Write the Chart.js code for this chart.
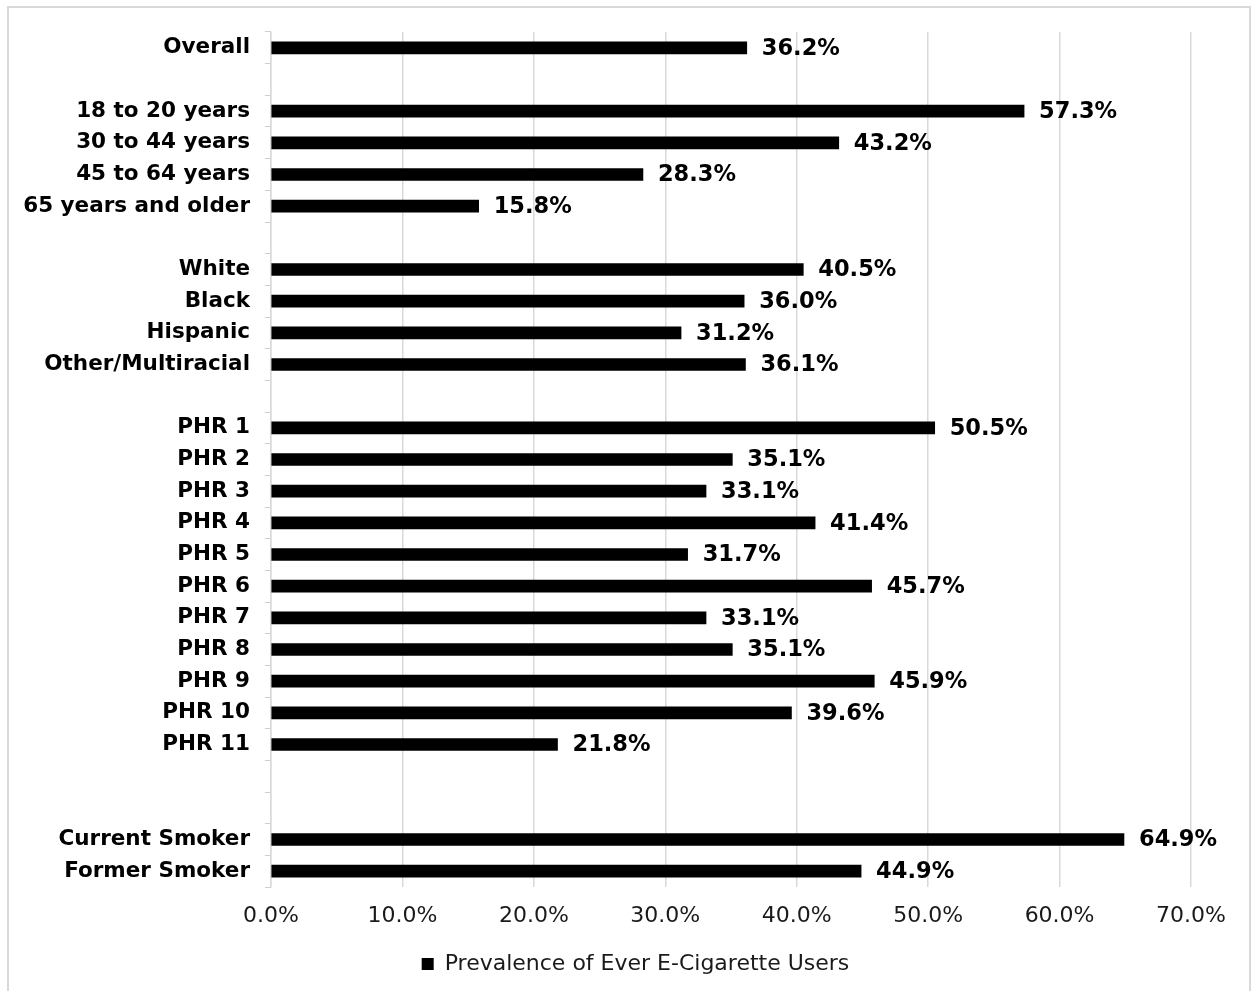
<!DOCTYPE html>
<html>
<head>
<meta charset="utf-8">
<script src="https://cdn.jsdelivr.net/npm/chart.js@4"></script>
<style>
  html, body { margin: 0; padding: 0; background: #fff; }
  canvas { display: block; }
</style>
</head>
<body>
<canvas id="prevalence-chart" width="1252" height="991"></canvas>
<script>
// blank entries leave the gaps between the groups
const groups = [
    'Overall', '',
    '18 to 20 years', '30 to 44 years', '45 to 64 years', '65 years and older', '',
    'White', 'Black', 'Hispanic', 'Other/Multiracial', '',
    'PHR 1', 'PHR 2', 'PHR 3', 'PHR 4', 'PHR 5', 'PHR 6',
    'PHR 7', 'PHR 8', 'PHR 9', 'PHR 10', 'PHR 11', '', '',
    'Current Smoker', 'Former Smoker'
];

const prevalence = [
    36.2, null,
    57.3, 43.2, 28.3, 15.8, null,
    40.5, 36.0, 31.2, 36.1, null,
    50.5, 35.1, 33.1, 41.4, 31.7, 45.7,
    33.1, 35.1, 45.9, 39.6, 21.8, null, null,
    64.9, 44.9
];

const xTicks = [0, 10, 20, 30, 40, 50, 60, 70];

const FONT = 'DejaVu Sans';

// value text at the end of every bar
const barValues = {
    id: 'barValues',
    afterDatasetsDraw(chart) {
        const ctx = chart.ctx;
        const meta = chart.getDatasetMeta(0);
        ctx.save();
        ctx.font = 'bold 22.5px "' + FONT + '"';
        ctx.fillStyle = '#000';
        ctx.textAlign = 'left';
        ctx.textBaseline = 'middle';
        meta.data.forEach((bar, i) => {
            const v = chart.data.datasets[0].data[i];
            if (v === null) return;
            ctx.fillText(v.toFixed(1) + '%', bar.x + 15, bar.y + 1);
        });
        ctx.restore();
    }
};

// thin frame round the whole figure, legend nudged to the page centre
const frame = {
    id: 'frame',
    afterLayout(chart) {
        chart.legend.left += 30;
        chart.legend.right += 30;
    },
    beforeDraw(chart) {
        const ctx = chart.ctx;
        ctx.save();
        ctx.fillStyle = '#fff';
        ctx.fillRect(0, 0, chart.width, chart.height);
        ctx.strokeStyle = '#d9d9d9';
        ctx.lineWidth = 2;
        ctx.strokeRect(8, 7, 1242, 1000);
        ctx.restore();
    }
};

new Chart(document.querySelector('#prevalence-chart').getContext('2d'), {
    type: 'bar',
    data: {
        labels: groups,
        datasets: [{
            label: 'Prevalence of Ever E-Cigarette Users',
            data: prevalence,
            backgroundColor: '#000',
            borderWidth: 0,
            barThickness: 12
        }]
    },
    options: {
        indexAxis: 'y',
        responsive: false,
        animation: false,
        layout: { padding: { left: 20, right: 61, top: 32, bottom: 6 } },
        scales: {
            x: {
                min: 0,
                max: 70,
                afterBuildTicks(scale) {
                    scale.ticks = xTicks.map(v => ({ value: v }));
                },
                afterFit(scale) { scale.height = 54; },
                ticks: {
                    color: '#1a1a1a',
                    padding: 16,
                    font: { family: FONT, size: 22 },
                    callback: v => v.toFixed(1) + '%'
                },
                grid: { color: '#d9d9d9', lineWidth: 1.5, drawTicks: false },
                border: { display: false }
            },
            y: {
                afterFit(scale) { scale.width = 251; },
                ticks: {
                    color: '#000',
                    padding: 15,
                    autoSkip: false,
                    font: { family: FONT, size: 21.5, weight: 'bold' }
                },
                grid: { drawOnChartArea: false, color: '#cfcfcf', tickLength: 6, offset: true },
                border: { color: '#d9d9d9', width: 1.5 }
            }
        },
        plugins: {
            legend: {
                position: 'bottom',
                labels: {
                    color: '#1a1a1a',
                    boxWidth: 12,
                    boxHeight: 12,
                    padding: 12,
                    font: { family: FONT, size: 22 }
                }
            },
            tooltip: { enabled: false }
        }
    },
    plugins: [frame, barValues]
});
</script>
</body>
</html>
